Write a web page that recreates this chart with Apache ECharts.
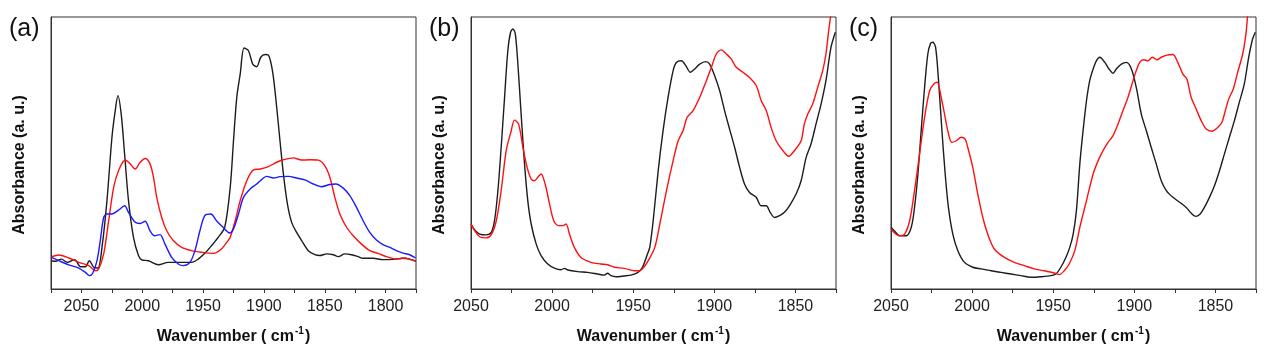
<!DOCTYPE html>
<html>
<head>
<meta charset="utf-8">
<script src="https://cdn.jsdelivr.net/npm/echarts@6/dist/echarts.min.js"></script>
<style>
html,body{margin:0;padding:0;background:#fff;}
#chart{width:1269px;height:353px;}
</style>
</head>
<body>
<div id="chart"></div>
<script>
// ---- Data: [wavenumber (cm-1), absorbance (a.u., relative 0-100)] ----
const aBlack = [[2074.5,10.4],[2071.3,10.2],[2066.4,11.0],[2061.7,9.8],[2055.5,10.8],[2050.8,8.2],[2046.7,8.2],[2043.5,10.4],[2039.9,8.0],[2036.4,7.7],[2033.1,15.3],[2029.0,32.5],[2024.9,55.8],[2022.2,65.6],[2020.0,71.1],[2017.3,64.3],[2014.5,49.6],[2011.3,32.5],[2007.2,19.0],[2003.1,12.3],[2000.4,10.7],[1994.9,10.4],[1986.7,8.9],[1978.6,9.8],[1967.6,9.8],[1959.5,9.8],[1954.0,11.0],[1948.6,13.1],[1943.1,15.9],[1937.6,19.0],[1932.2,22.7],[1927.7,37.4],[1925.0,54.5],[1922.3,70.5],[1919.5,79.0],[1916.3,88.6],[1912.7,87.6],[1909.2,82.7],[1905.9,81.7],[1902.6,85.2],[1899.0,86.2],[1896.3,86.0],[1892.8,79.7],[1889.5,66.8],[1886.8,54.5],[1884.0,42.3],[1880.7,31.3],[1877.2,24.5],[1873.1,20.8],[1869.0,17.8],[1863.5,14.1],[1858.1,12.6],[1854.0,12.3],[1848.5,12.9],[1843.0,12.6],[1838.9,11.9],[1833.5,12.9],[1828.0,12.6],[1822.6,11.9],[1818.5,11.3],[1810.3,11.3],[1802.1,10.8],[1793.9,10.9],[1785.7,11.3],[1780.2,11.0],[1775.3,10.2]];
const aRed = [[2074.5,11.9],[2068.5,12.5],[2060.4,11.4],[2052.2,9.8],[2044.0,8.6],[2038.5,6.7],[2035.8,7.4],[2031.7,12.9],[2027.6,25.1],[2023.5,37.4],[2019.5,43.5],[2014.0,47.4],[2009.9,46.0],[2005.8,44.1],[2001.7,46.6],[1997.6,48.0],[1993.6,46.0],[1990.8,41.1],[1988.1,33.7],[1984.0,26.3],[1979.9,21.4],[1974.5,17.8],[1967.6,15.3],[1959.5,14.1],[1951.3,13.5],[1941.7,13.1],[1934.9,14.7],[1929.5,17.8],[1927.7,19.0],[1923.6,25.1],[1919.5,32.5],[1914.1,39.8],[1908.6,43.8],[1903.1,44.1],[1896.3,45.0],[1889.5,46.6],[1884.0,47.5],[1875.8,48.2],[1869.0,47.4],[1862.2,47.5],[1855.3,47.4],[1849.9,45.3],[1845.8,41.1],[1841.7,33.7],[1837.6,27.6],[1832.1,22.7],[1826.6,19.6],[1819.8,16.5],[1813.0,14.1],[1806.2,13.1],[1799.3,11.9],[1791.2,11.0],[1784.3,11.4],[1778.8,10.7],[1775.3,10.4]];
const aBlue = [[2074.5,11.6],[2068.5,10.4],[2060.4,8.9],[2052.2,7.7],[2046.7,6.1],[2043.5,4.9],[2040.7,5.8],[2037.2,10.4],[2034.5,17.8],[2031.7,26.3],[2029.0,27.6],[2024.9,27.6],[2019.5,29.0],[2014.5,30.6],[2011.3,28.2],[2005.8,24.5],[2001.7,24.1],[1997.6,24.9],[1993.6,21.4],[1990.0,19.6],[1985.4,20.0],[1981.3,16.5],[1975.8,11.6],[1970.4,9.2],[1966.3,8.6],[1960.8,9.8],[1956.7,14.1],[1952.6,21.4],[1948.6,27.0],[1943.6,27.6],[1939.0,25.1],[1933.6,22.7],[1928.1,20.6],[1925.0,22.1],[1920.9,27.6],[1916.8,33.7],[1911.3,36.8],[1905.9,38.6],[1900.4,40.8],[1897.7,41.4],[1892.2,40.8],[1886.8,41.3],[1879.9,41.4],[1873.1,40.8],[1866.3,40.1],[1859.4,38.6],[1852.6,37.6],[1845.8,38.4],[1840.9,38.6],[1834.8,37.1],[1829.4,34.3],[1823.9,30.0],[1818.5,25.1],[1813.0,20.8],[1807.5,18.0],[1802.1,16.3],[1796.6,15.3],[1791.2,14.1],[1785.7,13.2],[1780.2,12.6],[1775.3,11.4]];

const bBlack = [[2050.0,23.9],[2047.7,21.7],[2044.7,20.2],[2040.6,19.9],[2037.5,20.8],[2035.5,25.1],[2033.4,36.2],[2031.4,52.1],[2029.3,70.5],[2027.3,87.6],[2025.6,94.4],[2024.2,95.6],[2022.7,93.8],[2021.1,82.7],[2019.1,64.3],[2017.0,46.0],[2015.0,32.5],[2012.9,23.9],[2009.8,16.5],[2006.8,12.3],[2002.7,9.2],[1998.6,7.7],[1994.5,7.1],[1992.4,7.6],[1990.4,7.0],[1984.2,6.4],[1978.1,6.1],[1971.9,5.5],[1967.8,5.1],[1965.8,5.8],[1963.7,4.9],[1960.7,4.5],[1955.5,4.8],[1951.4,5.1],[1947.3,6.0],[1944.3,8.0],[1941.2,12.9],[1939.8,15.3],[1937.7,25.1],[1934.6,43.5],[1931.6,58.2],[1928.5,70.5],[1925.4,80.3],[1923.4,83.3],[1920.3,83.9],[1917.6,82.1],[1914.8,79.7],[1912.1,80.9],[1909.0,82.7],[1905.3,83.6],[1902.9,82.7],[1899.8,78.4],[1896.7,72.9],[1893.7,65.6],[1890.6,58.8],[1887.5,52.1],[1884.4,44.7],[1881.4,38.6],[1878.3,35.5],[1874.2,33.7],[1871.1,30.6],[1868.0,30.6],[1865.6,28.2],[1862.9,26.3],[1859.8,27.0],[1856.8,28.2],[1853.7,30.6],[1849.6,34.9],[1846.5,39.8],[1843.4,48.4],[1840.4,53.3],[1837.3,60.7],[1834.2,68.0],[1831.2,76.6],[1828.1,88.8],[1825.4,94.4]];
const bRed = [[2050.0,23.9],[2047.7,21.4],[2044.7,19.2],[2040.6,18.8],[2037.5,20.0],[2034.4,25.1],[2031.4,36.2],[2028.3,50.9],[2025.2,58.2],[2023.2,62.1],[2020.7,60.7],[2018.0,52.1],[2015.4,44.7],[2012.9,40.4],[2010.9,39.8],[2008.8,41.1],[2006.8,42.3],[2004.3,38.6],[2001.6,31.3],[1999.0,25.1],[1996.1,23.3],[1993.4,23.3],[1991.4,23.9],[1989.3,20.2],[1986.3,15.3],[1982.2,11.6],[1976.0,9.8],[1969.9,9.2],[1965.8,8.9],[1961.7,8.0],[1955.5,7.6],[1949.4,6.7],[1946.3,6.7],[1943.2,8.2],[1940.2,11.0],[1936.7,15.3],[1933.6,23.9],[1929.5,36.2],[1925.4,47.2],[1922.3,54.5],[1919.3,58.2],[1916.8,63.1],[1913.1,65.6],[1909.0,70.5],[1904.9,76.6],[1901.8,81.5],[1898.8,86.4],[1895.7,87.9],[1892.6,86.4],[1889.6,84.6],[1886.5,81.5],[1882.4,79.7],[1878.3,77.8],[1874.2,74.8],[1871.1,69.2],[1868.0,65.6],[1865.0,59.4],[1861.9,54.5],[1857.8,50.9],[1854.1,48.8],[1850.6,50.9],[1846.5,54.5],[1844.5,60.7],[1842.4,64.3],[1839.4,68.0],[1836.3,74.1],[1833.2,80.3],[1831.2,86.4],[1829.5,95.0],[1828.1,101.1],[1826.5,106.0]];

const cBlack = [[2050.0,22.7],[2047.7,21.2],[2044.7,19.6],[2040.6,19.6],[2037.5,22.7],[2035.5,30.0],[2033.4,42.3],[2031.4,58.2],[2029.3,74.1],[2027.3,86.4],[2025.6,90.3],[2024.2,90.7],[2022.5,88.8],[2020.7,76.6],[2018.6,58.2],[2016.6,42.3],[2014.6,30.0],[2011.9,20.2],[2008.8,14.1],[2004.7,9.8],[1999.6,8.0],[1994.5,7.4],[1988.3,6.7],[1982.2,6.1],[1976.0,5.5],[1969.9,4.9],[1963.7,4.3],[1957.6,4.5],[1951.4,4.9],[1948.4,5.5],[1945.3,8.0],[1942.2,11.6],[1939.8,15.3],[1937.7,20.2],[1935.7,28.8],[1933.6,46.0],[1931.6,58.2],[1929.5,69.2],[1927.5,76.6],[1925.4,80.9],[1923.4,83.9],[1921.3,85.2],[1918.2,83.3],[1915.6,80.9],[1913.1,79.3],[1911.1,80.9],[1908.0,82.7],[1904.9,83.3],[1901.8,80.9],[1898.8,74.1],[1895.7,64.3],[1892.6,58.2],[1889.6,52.1],[1886.5,46.0],[1883.4,39.8],[1880.3,36.2],[1876.2,33.7],[1872.1,31.9],[1868.0,30.0],[1865.0,27.9],[1862.3,26.7],[1859.4,27.6],[1856.8,30.0],[1853.7,33.7],[1850.6,38.0],[1847.5,43.5],[1844.5,49.6],[1841.4,55.8],[1838.3,61.9],[1835.3,68.6],[1832.2,75.4],[1829.5,85.2],[1827.1,91.9],[1825.4,94.4]];
const cRed = [[2050.0,22.1],[2047.7,20.5],[2044.7,19.6],[2041.6,20.2],[2038.5,25.1],[2035.5,36.2],[2032.4,49.6],[2029.3,63.1],[2026.2,72.9],[2023.6,75.4],[2021.5,76.0],[2019.1,70.5],[2017.0,64.3],[2015.0,58.2],[2012.5,53.9],[2009.8,54.5],[2006.8,55.8],[2004.3,55.1],[2002.7,52.1],[1999.6,44.7],[1996.5,34.9],[1993.4,26.3],[1990.4,20.2],[1986.3,14.7],[1980.1,11.6],[1974.0,9.8],[1967.8,8.6],[1961.7,7.4],[1955.5,6.7],[1949.4,5.9],[1946.3,5.3],[1943.2,6.7],[1940.2,9.2],[1936.7,14.1],[1933.6,22.7],[1929.5,32.5],[1925.4,42.3],[1922.3,47.2],[1919.3,50.9],[1916.2,53.9],[1913.1,56.4],[1910.0,60.7],[1907.0,65.6],[1903.9,70.5],[1900.8,76.6],[1898.8,80.3],[1896.7,83.3],[1894.3,84.3],[1891.6,83.9],[1888.9,85.2],[1886.1,84.3],[1883.4,85.2],[1879.9,86.0],[1876.2,86.2],[1873.2,83.3],[1870.1,79.0],[1867.6,77.2],[1865.0,70.5],[1861.9,66.2],[1858.8,61.9],[1855.7,58.8],[1852.1,58.0],[1848.6,59.4],[1846.0,61.3],[1843.9,65.6],[1841.8,69.9],[1839.0,73.5],[1836.3,79.7],[1833.2,86.4],[1831.2,93.8],[1830.1,101.1],[1829.0,108.0]];

// axis ranges
const aRange = [1775, 2075];
const bcRange = [1825, 2050];
const panelLabels = ['(a)', '(b)', '(c)'];
const xTitle = 'Wavenumber ( cm';
const yTitle = 'Absorbance (a. u.)';

// ---- Layout / styles ----
const gridLefts = [51, 471, 891];
const GT = 17, GW = 365, GH = 272;
const AXC = '#333';
const BLACK = '#1c1c1c', RED = '#ff1010', BLUE = '#1a1aff';
const FONT = 'Liberation Sans, Arial, sans-serif';

const chart = echarts.init(document.getElementById('chart'), null, {renderer: 'canvas'});

const grids = gridLefts.map(l => ({left: l, top: GT, width: GW, height: GH, show: true, borderColor: AXC, borderWidth: 1, backgroundColor: 'transparent', containLabel: false}));

function xAxisFor(i, range) {
  return {
    type: 'value', gridIndex: i, inverse: true, min: range[0], max: range[1], interval: 25,
    axisLine: {show: true, onZero: false, lineStyle: {color: AXC, width: 1}},
    axisTick: {show: true, inside: false, length: 4, lineStyle: {color: AXC, width: 1}},
    axisLabel: {show: true, margin: 10, color: '#222', fontSize: 16, fontFamily: FONT,
      formatter: v => (v % 50 === 0 && (v !== range[0] || v === 2050) && v !== range[1]) || v === 2050 ? String(v) : '',
      showMinLabel: true, showMaxLabel: true, hideOverlap: false},
    splitLine: {show: false},
    name: '{t|' + xTitle + '}{s|-1}{t|)}', nameLocation: 'middle', nameGap: 37,
    nameTextStyle: {rich: {
      t: {fontSize: 16, fontWeight: 'bold', fontFamily: FONT, color: '#111', verticalAlign: 'bottom', lineHeight: 19},
      s: {fontSize: 10, fontWeight: 'bold', fontFamily: FONT, color: '#111', verticalAlign: 'top', lineHeight: 19, padding: [0, 1, 0, 1]}
    }}
  };
}
function yAxisFor(i) {
  return {
    type: 'value', gridIndex: i, min: 0, max: 100,
    axisLine: {show: true, lineStyle: {color: AXC, width: 1}},
    axisTick: {show: false}, axisLabel: {show: false}, splitLine: {show: false}
  };
}
function line(name, data, color, i) {
  return {name, type: 'line', xAxisIndex: i, yAxisIndex: i, data, smooth: 0.3, showSymbol: false, symbol: 'none',
    clip: true, lineStyle: {color, width: 1.4}, emphasis: {disabled: true}, animation: false};
}

const graphics = [];
gridLefts.forEach((l, i) => {
  graphics.push({type: 'text', left: l - 42, top: 17, style: {text: panelLabels[i], font: '25px ' + FONT, fill: '#111'}});
  graphics.push({type: 'text', x: l - 31, y: 165, rotation: Math.PI / 2,
    style: {text: yTitle, font: 'bold 16px ' + FONT, fill: '#111', align: 'center', verticalAlign: 'middle'}});
});

chart.setOption({
  animation: false,
  backgroundColor: '#fff',
  grid: grids,
  xAxis: [xAxisFor(0, aRange), xAxisFor(1, bcRange), xAxisFor(2, bcRange)],
  yAxis: [yAxisFor(0), yAxisFor(1), yAxisFor(2)],
  series: [
    line('a-black', aBlack, BLACK, 0),
    line('a-red', aRed, RED, 0),
    line('a-blue', aBlue, BLUE, 0),
    line('b-black', bBlack, BLACK, 1),
    line('b-red', bRed, RED, 1),
    line('c-black', cBlack, BLACK, 2),
    line('c-red', cRed, RED, 2)
  ],
  graphic: graphics
});
</script>
</body>
</html>
